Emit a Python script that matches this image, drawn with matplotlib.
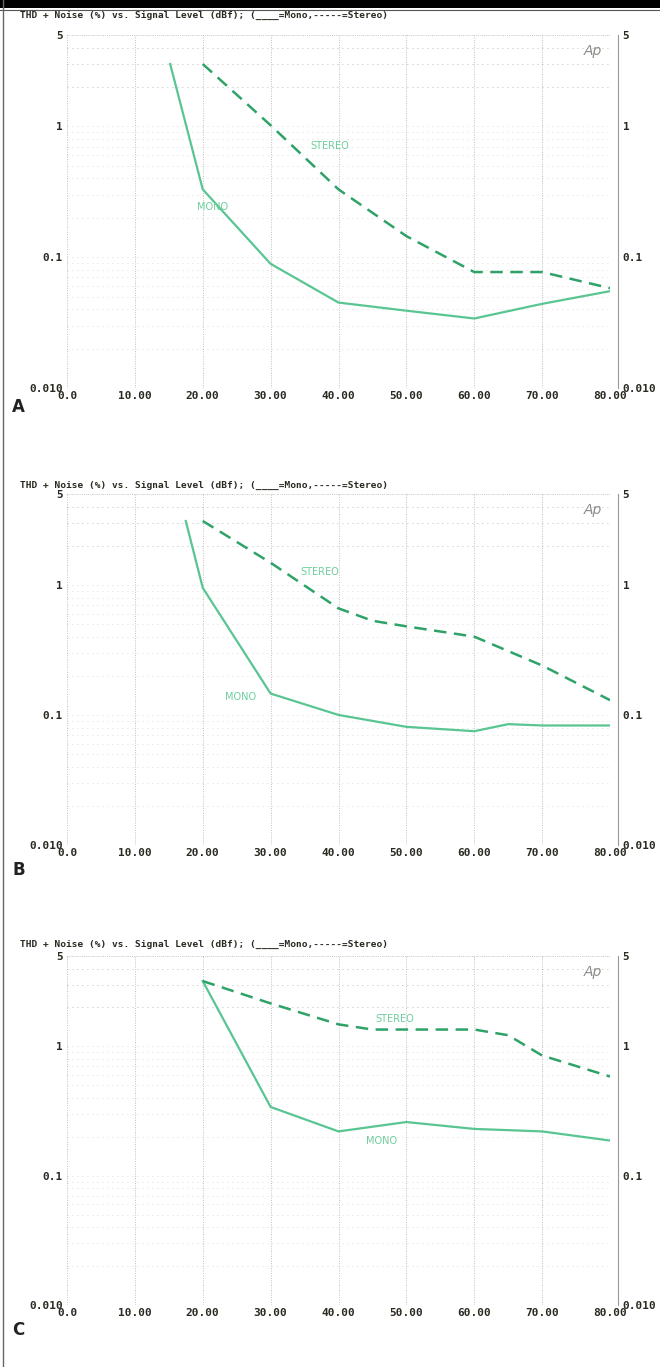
import numpy as np
import matplotlib.pyplot as plt
from matplotlib.patches import Rectangle
from matplotlib.lines import Line2D
from matplotlib.ticker import FixedLocator, NullFormatter

plt.rcParams["font.family"] = "DejaVu Sans Mono"
plt.rcParams["font.weight"] = "bold"

# signal level (dBf) and THD+N (%) for each panel
a_mono_x = [15.2, 20, 30, 40, 50, 60, 70, 80]
a_mono_y = [3.0, 0.33, 0.089, 0.045, 0.039, 0.034, 0.044, 0.055]
a_stereo_x = [20, 30, 40, 50, 60, 70, 80]
a_stereo_y = [3.0, 1.02, 0.33, 0.145, 0.077, 0.077, 0.058]

b_mono_x = [17.5, 20, 30, 40, 50, 60, 65, 70, 80]
b_mono_y = [3.1, 0.95, 0.146, 0.10, 0.081, 0.075, 0.085, 0.083, 0.083]
b_stereo_x = [20, 30, 40, 45, 50, 60, 70, 80]
b_stereo_y = [3.1, 1.48, 0.66, 0.53, 0.48, 0.40, 0.24, 0.13]

c_mono_x = [20, 30, 40, 50, 60, 70, 80]
c_mono_y = [3.2, 0.34, 0.22, 0.26, 0.23, 0.22, 0.187]
c_stereo_x = [20, 30, 40, 45, 50, 60, 65, 70, 80]
c_stereo_y = [3.2, 2.15, 1.48, 1.35, 1.35, 1.35, 1.22, 0.85, 0.585]

x_ticks = [0, 10, 20, 30, 40, 50, 60, 70, 80]
x_labels = ["0.0", "10.00", "20.00", "30.00", "40.00", "50.00", "60.00", "70.00", "80.00"]
y_ticks = [0.01, 0.1, 1, 5]
y_labels = ["0.010", "0.1", "1", "5"]

title = "THD + Noise (%) vs. Signal Level (dBf); (____=Mono,-----=Stereo)"

panels = [
    ("A", a_mono_x, a_mono_y, a_stereo_x, a_stereo_y, (38.7, 0.71), (21.5, 0.243)),
    ("B", b_mono_x, b_mono_y, b_stereo_x, b_stereo_y, (37.3, 1.26), (25.6, 0.137)),
    ("C", c_mono_x, c_mono_y, c_stereo_x, c_stereo_y, (48.3, 1.62), (46.4, 0.184)),
]

# pixel layout of each panel: (top of plot, bottom of plot, title y, letter y)
layout = [(35, 388, 15, 407), (494, 845, 485, 870), (956, 1305, 944, 1330)]

W, H = 660, 1367
fig = plt.figure(figsize=(6.6, 13.67), dpi=100)
fig.patch.set_facecolor("white")

mono_c = "#58c592"
stereo_c = "#2fa268"
grid_c = "#8a8a80"
text_c = "#2a2a22"

for (letter, mx, my, sx, sy, st_pos, mo_pos), (top, bot, ty, ly) in zip(panels, layout):
    ax = fig.add_axes([67 / W, 1 - bot / H, 543 / W, (bot - top) / H])
    ax.set_yscale("log")
    ax.set_xlim(0, 80)
    ax.set_ylim(0.01, 5)

    ax.plot(mx, my, color=mono_c, lw=1.6, solid_joinstyle="round")
    ax.plot(sx, sy, color=stereo_c, lw=1.8, dashes=(5, 3))

    for pos, name in [(st_pos, "STEREO"), (mo_pos, "MONO")]:
        ax.text(*pos, name, color="#6cce9c", fontsize=7, ha="center", va="center",
                family="DejaVu Sans", fontweight="normal")

    ax.set_xticks(x_ticks)
    ax.set_xticklabels(x_labels)
    ax.set_yticks(y_ticks)
    ax.set_yticklabels(y_labels)
    ax.yaxis.set_minor_locator(FixedLocator(
        [m * 10.0 ** e for e in (-2, -1, 0) for m in range(2, 10)] + [2, 3, 4]))
    ax.yaxis.set_minor_formatter(NullFormatter())
    ax.tick_params(axis="both", which="both", length=0, colors=text_c)
    ax.tick_params(axis="x", pad=2, labelsize=8)
    ax.tick_params(axis="y", pad=3, labelsize=8, labelright=True)

    ax.grid(True, axis="x", which="major", color=grid_c, ls=(0, (1, 1.5)), lw=0.7, alpha=0.55)
    ax.grid(True, axis="y", which="both", color=grid_c, ls=(0, (1, 5)), lw=0.6, alpha=0.4)
    for s in ["left", "top", "bottom"]:
        ax.spines[s].set_visible(False)
    ax.spines["right"].set_color("#9a9a92")
    ax.spines["right"].set_linewidth(0.8)
    ax.spines["right"].set_position(("outward", 6))
    ax.axvline(80, color="#9a9a92", lw=0.6, ls=(0, (3, 1)))
    ax.axhline(5, color=grid_c, lw=0.6, ls=(0, (1, 1.5)), alpha=0.5)

    ax.text(0.985, 0.975, "Ap", transform=ax.transAxes, ha="right", va="top",
            fontsize=10, style="italic", color="#8c8c88",
            family="DejaVu Sans", fontweight="normal")

    fig.text(20 / W, 1 - ty / H, title, fontsize=6.8, color=text_c,
             va="center", ha="left")
    fig.text(12 / W, 1 - ly / H, letter, fontsize=12, family="DejaVu Sans",
             color="#222222", va="center", ha="left")

# scanned page edges
fig.add_artist(Rectangle((0, 1 - 8 / H), 1, 8 / H, transform=fig.transFigure,
                         color="black", lw=0))
fig.add_artist(Line2D([0, 1], [1 - 10 / H, 1 - 10 / H], transform=fig.transFigure,
                      color="#555555", lw=0.8))
fig.add_artist(Line2D([3 / W, 3 / W], [0, 1], transform=fig.transFigure,
                      color="#666666", lw=1.0))

fig.savefig("out.png", dpi=100)
